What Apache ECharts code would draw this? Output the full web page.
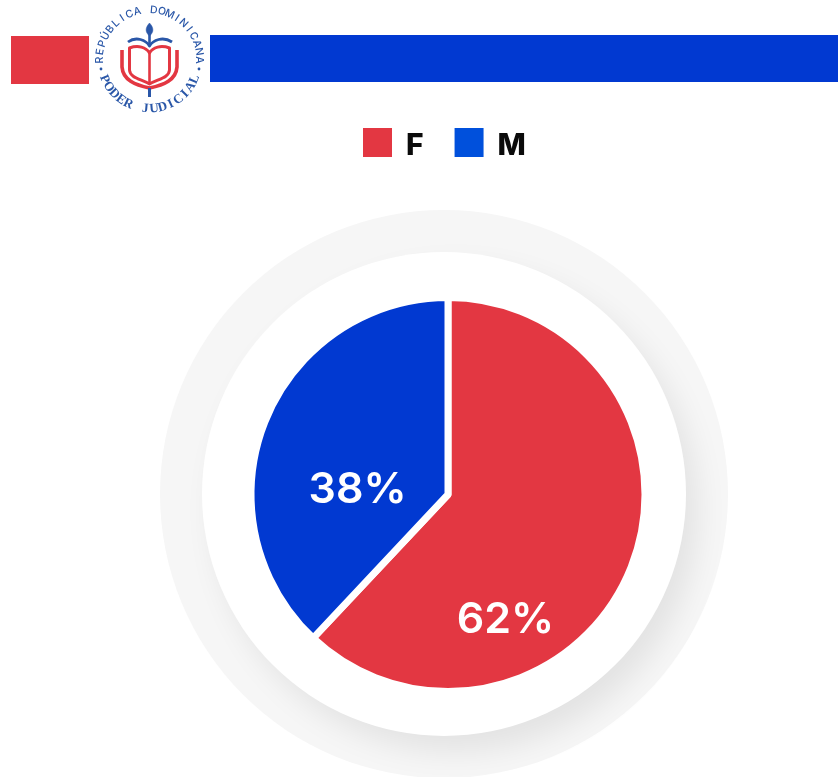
<!DOCTYPE html>
<html><head><meta charset="utf-8">
<style>html,body{margin:0;padding:0;background:#fff}#c{width:838px;height:777px}</style>
<script src="https://cdn.jsdelivr.net/npm/echarts@6/dist/echarts.min.js"></script>
</head><body><div id="c"></div>
<script>
var categories = ['F', 'M'];
var values = [62, 38];
var sliceColors = ['#e33742', '#0139d1'];
var legendColors = ['#e33742', '#0050dc'];
var logoTop = 'REPÚBLICA DOMINICANA';
var logoBottom = 'PODER JUDICIAL';
var RED = '#e33742', NAVY = '#2a57a8';

function arcText(str, from, to, R, font, bottom) {
  var out = [], n = str.length;
  for (var i = 0; i < n; i++) {
    var deg = from + (to - from) * i / (n - 1), a = deg * Math.PI / 180;
    out.push({
      type: 'text', x: 149.6 + R * Math.sin(a), y: 60 - R * Math.cos(a),
      rotation: bottom ? -(a - Math.PI) : -a, z: 5,
      style: { text: str[i], fill: NAVY, font: font, align: 'center', verticalAlign: 'middle' }
    });
  }
  return out;
}

var graphics = [
  { type: 'rect', shape: { x: 11, y: 36, width: 78, height: 48 }, style: { fill: '#e33742' }, z: 1 },
  { type: 'rect', shape: { x: 210, y: 35, width: 628, height: 47 }, style: { fill: '#0139d1' }, z: 1 },
  { type: 'circle', shape: { cx: 444, cy: 494, r: 284 }, style: { fill: '#f6f6f6' }, z: 0 },
  { type: 'circle', shape: { cx: 444, cy: 494, r: 242 }, z: 1,
    style: { fill: '#fff', shadowBlur: 30, shadowColor: 'rgba(0,0,0,0.08)', shadowOffsetX: 12, shadowOffsetY: 16 } },
  { type: 'circle', shape: { cx: 101, cy: 69, r: 1.4 }, style: { fill: NAVY }, z: 5 },
  { type: 'circle', shape: { cx: 199, cy: 69, r: 1.4 }, style: { fill: NAVY }, z: 5 }
]
.concat(arcText(logoTop, -90, 90, 50, '500 10.5px Inter', false))
.concat(arcText(logoBottom, 247, 113, 49, 'bold 13px "Liberation Serif"', true));

var chart = echarts.init(document.getElementById('c'), null, { renderer: 'canvas' });
chart.setOption({
  animation: false,
  backgroundColor: '#fff',
  graphic: { elements: graphics },
  legend: {
    data: categories.map(function (c, i) { return { name: c, itemStyle: { color: legendColors[i], borderWidth: 0 } }; }),
    left: 363, top: 128, padding: 0, itemWidth: 29, itemHeight: 29, itemGap: 31, icon: 'rect', selectedMode: false,
    formatter: '{a|{name}}',
    textStyle: {
      padding: [0, 0, 0, 9],
      rich: { a: { fontFamily: 'Inter', fontWeight: 800, fontSize: 30, color: '#0b0b0b', padding: [6, 0, 0, 0] } }
    }
  },
  series: [{
    type: 'pie', center: [448, 494.5], radius: [0, 197], startAngle: 90, clockwise: true,
    silent: true, avoidLabelOverlap: false,
    itemStyle: { borderColor: '#fff', borderWidth: 7 },
    label: { show: true, position: 'inside', formatter: '{c}%', color: '#fff', fontFamily: 'Inter', fontWeight: 600, fontSize: 43 },
    labelLine: { show: false },
    data: categories.map(function (c, i) {
      return { name: c, value: values[i], itemStyle: { color: sliceColors[i] },
        label: { offset: i === 0 ? [-37, 88] : [4, 33] } };
    })
  }]
});

// Emblem of the logo, drawn as decoration above the chart.
var zr = chart.getZr();
[
  ['M122 50 V67 C123 80 135 85 149.5 88 C164 85 176 80 177 67 V50', null, RED, 3.6],
  ['M129.5 48 C138 45 146 47 149.5 53 C153 47 161 45 169.5 48 V70 C169 78 158 79 149.5 84 C141 79 130 78 129.5 70 Z', null, RED, 3],
  ['M149.5 53 V84', null, RED, 2.6],
  ['M128 42 C136 36 146 40 149.5 46 C153 40 163 36 172 42', null, NAVY, 2.8],
  ['M149.5 46 V32', null, NAVY, 2.6],
  ['M149.5 23 C145 28 145 32 149.5 36 C154 32 154 28 149.5 23 Z', NAVY, NAVY, 0.5],
  ['M149.5 88 V97', null, NAVY, 3]
].forEach(function (p) {
  zr.add(echarts.graphic.makePath(p[0], {
    z: 5, style: { fill: p[1], stroke: p[2], lineWidth: p[3], lineJoin: 'round' }
  }));
});
</script></body></html>
